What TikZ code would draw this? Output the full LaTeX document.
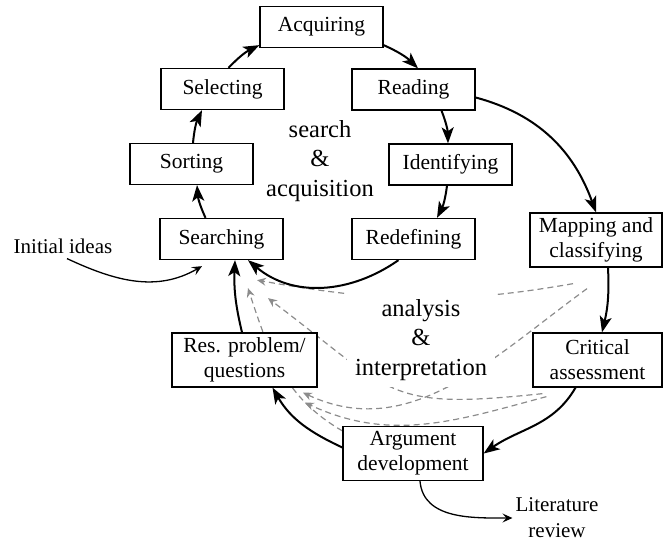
\documentclass[tikz,border=0pt]{standalone}
\usepackage{fontspec}
\setmainfont{Liberation Serif}
\usetikzlibrary{arrows.meta,backgrounds}

\begin{document}
\begin{tikzpicture}[x=1pt,y=1pt,
    stagebox/.style ={draw, line width=1.3pt, fill=white, inner sep=2pt, minimum width=123pt, minimum height=41pt, align=center, font=\fontsize{21.5}{25}\selectfont},
    twoline/.style ={stagebox, minimum height=54pt},
    phase/.style ={fill=white, inner xsep=8pt, inner ysep=6pt, align=center, font=\fontsize{24.5}{29.5}\selectfont},
    note/.style ={inner sep=3pt, align=center, font=\fontsize{21}{26}\selectfont},
    flow/.style ={line width=2pt, -{Stealth[length=16pt,width=12pt,inset=4pt]}},
    thinflow/.style ={line width=1.3pt, -{Stealth[length=10pt,width=9pt,inset=4pt]}},
    feedback/.style ={black!45, line width=1.2pt, dash pattern=on 6pt off 4pt, -{Stealth[length=9pt,width=8pt,inset=3pt]}}]
   \useasboundingbox (0,0) rectangle (663,544);
   % the two phases
   \node[phase] (sa) at (320,383) {search\\\&\\acquisition};
   \node[phase] (ai) at (421,204) {analysis\\\&\\interpretation};
   % stages
   \node[stagebox] (acq) at (321.5,517) {Acquiring};
   \node[stagebox] (sel) at (222.5,455) {Selecting};
   \node[stagebox] (rea) at (413.5,454.5) {Reading};
   \node[stagebox] (sor) at (191.5,380) {Sorting};
   \node[stagebox] (ide) at (450.5,379.5) {Identifying};
   \node[stagebox] (sea) at (221.5,305) {Searching};
   \node[stagebox] (red) at (413.5,305) {Redefining};
   \node[twoline, minimum width=132pt] (map) at (596,304) {Mapping and\\classifying};
   \node[twoline, minimum width=129pt] (cri) at (597.5,184) {Critical\\assessment};
   \node[twoline, minimum width=145pt] (res) at (244.5,184) {Res. problem/\\questions};
   \node[twoline, minimum width=140pt] (arg) at (413,90.5) {Argument\\development};
   \node[note] (ini) at (63,298) {Initial ideas};
   \node[note] (lit) at (557,26) {Literature\\review};
   % cycle
   \draw[flow] ([xshift=6pt]sel.north) to [bend left=10] ([yshift=3pt]acq.south west);
   \draw[flow] ([yshift=3pt]acq.south east) to [bend left=10] ([xshift=4.5pt]rea.north);
   \draw[flow] ([xshift=28pt]rea.south) to [bend left=10] ([xshift=-2.5pt]ide.north);
   \draw[flow] ([xshift=-3.5pt]ide.south) to [bend left=10] ([xshift=23.5pt]red.north);
   \draw[flow] ([xshift=-15pt]red.south) to [out=215,in=-40] ([xshift=26.5pt]sea.south);
   \draw[flow] ([xshift=-16pt]sea.north) to [bend left=10] ([xshift=5.5pt]sor.south);
   \draw[flow] ([xshift=1.5pt]sor.north) to [bend left=10] ([xshift=-20.5pt]sel.south);
   \draw[flow] ([yshift=-8pt]rea.east) to [out=-15,in=110] (map.north);
   \draw[flow] ([xshift=12pt]map.south) to [bend left=8] ([xshift=4.5pt]cri.north);
   \draw[flow] ([xshift=-22pt]cri.south) to [out=240,in=35] (arg.east);
   \draw[flow] ([yshift=6pt]arg.west) to [out=155,in=-60] ([xshift=28pt]res.south);
   \draw[flow] ([xshift=-2.5pt]res.north) to [bend left=8] ([xshift=13.5pt]sea.south);
   \draw[thinflow] ([xshift=4pt,yshift=-2pt]ini.south) to [out=-25,in=210] ([xshift=-19.5pt,yshift=-6pt]sea.south);
   \draw[thinflow] ([xshift=7pt]arg.south) to [out=-85,in=180] (lit.west);
   % feedback
   \begin{scope}[on background layer]
   \draw[feedback] ([xshift=-23pt,yshift=-16pt]map.south) to [out=190,in=-10] ([xshift=35.5pt,yshift=-20pt]sea.south);
   \draw[feedback] ([xshift=-9pt,yshift=-21pt]map.south) to [out=216,in=-25] ([xshift=58.5pt,yshift=-5pt]res.south);
   \draw[feedback] ([xshift=10pt,yshift=-6pt]cri.south west) to [out=186,in=-37,looseness=1.4] ([xshift=46.5pt,yshift=-38pt]sea.south);
   \draw[feedback] ([yshift=-5pt]arg.north west) to [out=150,in=-72] ([xshift=26.5pt,yshift=-28pt]sea.south);
   \draw[feedback] ([xshift=14pt,yshift=-9pt]cri.south west) to [out=195,in=-25] ([xshift=60.5pt,yshift=-15pt]res.south);
   \end{scope}
\end{tikzpicture}
\end{document}
